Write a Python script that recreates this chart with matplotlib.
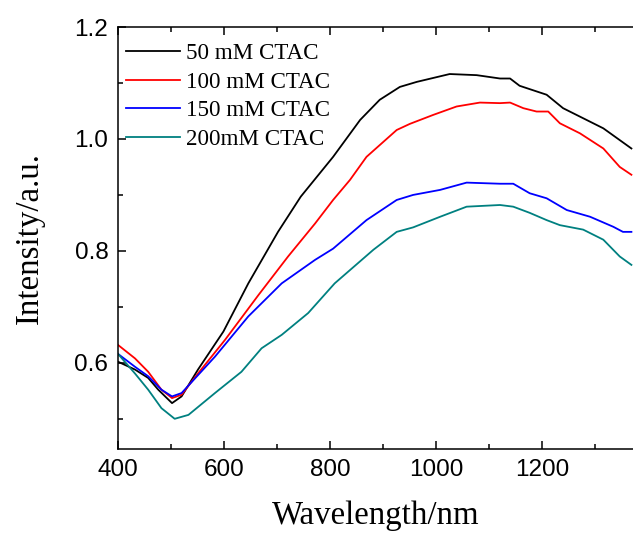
import numpy as np
import matplotlib
matplotlib.use('Agg')
import matplotlib.pyplot as plt
from matplotlib.ticker import MultipleLocator

# wavelength (nm) / intensity (a.u.)
w50 = [400, 432, 457, 476, 502, 520, 551, 599, 646, 702, 745, 806, 857, 894, 932, 964, 1026, 1077, 1121, 1140, 1158, 1209, 1240, 1316, 1369]
i50 = [0.602, 0.588, 0.573, 0.552, 0.528, 0.540, 0.588, 0.656, 0.742, 0.834, 0.897, 0.968, 1.034, 1.070, 1.093, 1.102, 1.116, 1.114, 1.108, 1.108, 1.095, 1.079, 1.055, 1.019, 0.983]
w100 = [400, 432, 457, 482, 502, 520, 551, 602, 665, 721, 772, 806, 838, 869, 926, 951, 995, 1039, 1083, 1121, 1140, 1165, 1190, 1212, 1234, 1272, 1316, 1347, 1369]
i100 = [0.632, 0.608, 0.584, 0.552, 0.537, 0.543, 0.581, 0.641, 0.721, 0.790, 0.849, 0.891, 0.927, 0.968, 1.016, 1.027, 1.043, 1.058, 1.065, 1.064, 1.065, 1.055, 1.049, 1.049, 1.028, 1.010, 0.983, 0.950, 0.936]
w150 = [400, 432, 457, 482, 502, 520, 583, 646, 709, 772, 806, 869, 926, 957, 1008, 1058, 1121, 1146, 1177, 1209, 1247, 1291, 1335, 1353, 1369]
i150 = [0.616, 0.593, 0.576, 0.552, 0.540, 0.546, 0.611, 0.683, 0.742, 0.784, 0.804, 0.855, 0.891, 0.900, 0.909, 0.922, 0.920, 0.920, 0.903, 0.894, 0.873, 0.861, 0.843, 0.834, 0.834]
w200 = [400, 432, 457, 482, 507, 533, 583, 633, 671, 709, 759, 809, 882, 926, 957, 1008, 1058, 1121, 1146, 1177, 1209, 1234, 1278, 1316, 1347, 1369]
i200 = [0.616, 0.581, 0.552, 0.519, 0.500, 0.507, 0.546, 0.584, 0.626, 0.650, 0.689, 0.742, 0.802, 0.834, 0.842, 0.861, 0.879, 0.882, 0.879, 0.868, 0.855, 0.846, 0.838, 0.820, 0.790, 0.775]
labels = ['50 mM CTAC', '100 mM CTAC', '150 mM CTAC', '200mM CTAC']
colors = ['black', '#ff0000', '#0000ff', '#008080']

fig = plt.figure(figsize=(6.33, 5.35), dpi=100)
ax = fig.add_axes([0.1864, 0.1607, 0.8136, 0.7888])
for w, i, lab, c in zip([w50, w100, w150, w200], [i50, i100, i150, i200], labels, colors):
    ax.plot(w, i, color=c, lw=1.3, label=lab)

ax.set_xlim(400, 1372)
ax.set_ylim(0.446, 1.2)
ax.xaxis.set_major_locator(MultipleLocator(200))
ax.xaxis.set_minor_locator(MultipleLocator(100))
ax.yaxis.set_major_locator(MultipleLocator(0.2))
ax.yaxis.set_minor_locator(MultipleLocator(0.1))
ax.yaxis.set_major_formatter(matplotlib.ticker.FormatStrFormatter('%.1f'))
ax.tick_params(which='both', direction='in', top=True, right=False, width=1.1)
ax.tick_params(which='major', length=6, pad=7)
ax.tick_params(which='minor', length=3.5)
for t in ax.get_xticklabels() + ax.get_yticklabels():
    t.set_fontfamily('Liberation Sans'); t.set_fontsize(17.5)
for s in ax.spines.values():
    s.set_linewidth(1.1)
ax.spines['right'].set_visible(False)

ax.set_xlabel('Wavelength/nm', family='Liberation Serif', fontsize=23.7, labelpad=14)
ax.set_ylabel('Intensity/a.u.', family='Liberation Serif', fontsize=23.7, labelpad=21)
ax.legend(loc='upper left', bbox_to_anchor=(-0.007, 0.99), frameon=False, borderpad=0,
          handlelength=2.35, handletextpad=0.25, labelspacing=0.33,
          prop={'family': 'Liberation Serif', 'size': 16.6})

fig.savefig('out.png', dpi=100)
